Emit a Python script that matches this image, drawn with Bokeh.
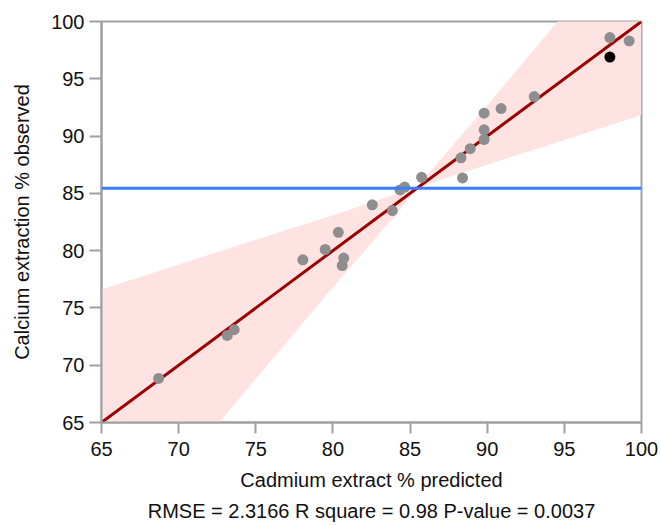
from bokeh.plotting import figure
from bokeh.models import FixedTicker, Span, Title, Range1d
from bokeh.embed import file_html
from bokeh.resources import INLINE

# data
pred = [68.7, 73.15, 73.6, 78.05, 79.5, 80.35, 80.7, 80.6, 82.55, 83.85, 84.35, 84.65,
        85.75, 88.4, 88.3, 88.9, 89.8, 89.8, 89.8, 90.9, 93.05, 97.95, 99.2]
obs = [68.85, 72.6, 73.1, 79.2, 80.1, 81.6, 79.35, 78.7, 84.0, 83.5, 85.3, 85.55,
       86.4, 86.35, 88.1, 88.9, 89.7, 90.55, 92.0, 92.4, 93.45, 98.6, 98.3]
high_pred = [97.95]
high_obs = [96.9]

fit_x = [65, 100]
fit_y = [65, 100]
mean_obs = 85.45

band_x = [65, 70, 75, 80, 84, 85.4, 87, 90, 95, 100]
band_upper = [76.6, 78.8, 80.95, 83.1, 84.9, 85.5, 88.0, 92.7, 100.7, 108.7]
band_lower = [52.9, 60.8, 68.8, 76.8, 83.0, 85.4, 86.2, 87.5, 89.65, 91.85]

ticks = [65, 70, 75, 80, 85, 90, 95, 100]

FONT = "Liberation Sans"
FS = "20px"

p = figure(width=661, height=525, output_backend="svg", toolbar_location=None,
           x_range=Range1d(65, 100), y_range=Range1d(65, 100),
           min_border_left=101, min_border_right=20, min_border_top=21, min_border_bottom=101)

p.varea(x=band_x, y1=band_lower, y2=band_upper, fill_color="#ffe3e3", fill_alpha=1.0)
p.add_layout(Span(location=mean_obs, dimension="width", line_color="#3b7dff", line_width=3))
p.line(fit_x, fit_y, line_color="#9a0000", line_width=3)
p.scatter(pred, obs, size=11, fill_color="#8e8e8e", line_color=None)
p.scatter(high_pred, high_obs, size=11, fill_color="black", line_color=None)

p.xgrid.visible = False
p.ygrid.visible = False
p.outline_line_color = "#a0a0a0"
p.outline_line_width = 2

for ax in (p.xaxis[0], p.yaxis[0]):
    ax.ticker = FixedTicker(ticks=ticks)
    ax.axis_line_color = "#a0a0a0"
    ax.axis_line_width = 2
    ax.major_tick_line_color = "#a0a0a0"
    ax.major_tick_line_width = 2
    ax.major_tick_in = 0
    ax.minor_tick_line_color = None
    ax.major_label_text_font = FONT
    ax.major_label_text_font_size = FS
    ax.major_label_text_color = "#111111"
    ax.axis_label_text_font = FONT
    ax.axis_label_text_font_size = FS
    ax.axis_label_text_font_style = "normal"
    ax.axis_label_text_color = "#111111"

p.xaxis.axis_label = "Cadmium extract % predicted"
p.yaxis.axis_label = "Calcium extraction % observed"
p.xaxis.major_tick_out = 11
p.yaxis.major_tick_out = 12
p.xaxis.major_label_standoff = 8
p.xaxis.axis_label_standoff = 10
p.yaxis.major_label_standoff = 5
p.yaxis.axis_label_standoff = 15

cap = Title(text="RMSE = 2.3166 R square = 0.98 P-value = 0.0037", align="center",
            text_font=FONT, text_font_size=FS, text_font_style="normal",
            text_color="#111111", offset=0, standoff=8)
p.add_layout(cap, "below")

open("out.html", "w").write(file_html(p, INLINE))
